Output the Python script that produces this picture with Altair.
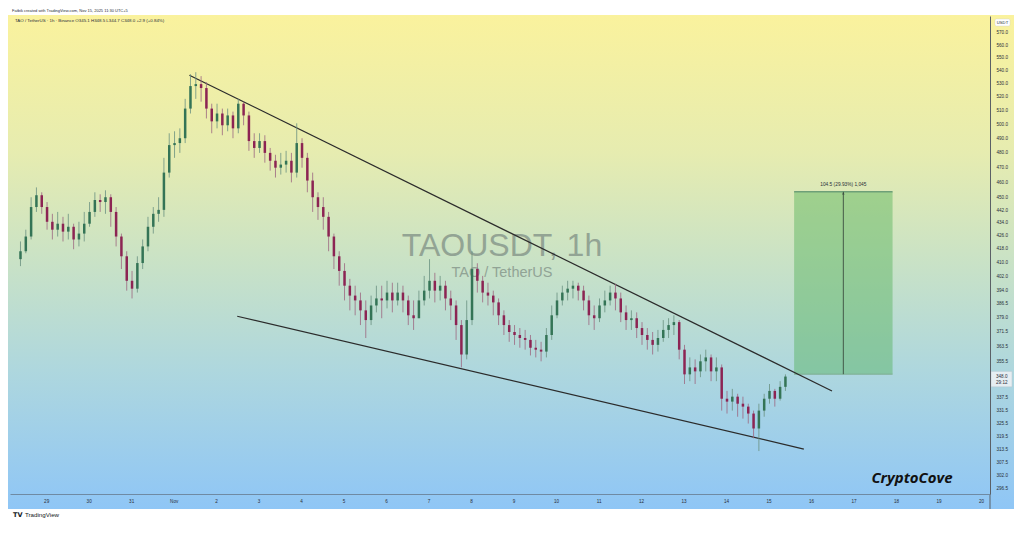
import json
import altair as alt
import pandas as pd

# ---------------- data (3-hour candles, hours counted from Oct 29 00:00) ----------------
START_HOUR = -16
STEP_HOURS = 3
OPEN0 = 411.9

CLOSE = [416.6, 425.5, 443.9, 451.5, 443.9, 434.6, 429.7, 433.4, 428.5, 431.5,
         423.7, 427.3, 433.4, 440.8, 448.4, 447.1, 450.2, 440.8, 425.5, 413.6,
         399.3, 394.8, 409.6, 419.5, 431.5, 439.6, 442.1, 466.4, 485.2, 486.6,
         490.0, 511.3, 528.1, 529.6, 526.6, 511.3, 502.0, 507.7, 499.2, 506.3,
         497.0, 514.9, 506.3, 488.0, 483.2, 488.0, 479.8, 474.4, 469.7, 471.8,
         474.4, 466.4, 486.6, 476.4, 461.1, 450.2, 443.9, 437.7, 425.5, 413.6,
         405.0, 396.5, 390.9, 388.2, 382.7, 377.4, 385.4, 389.3, 388.2, 392.6,
         388.2, 392.6, 388.2, 380.0, 378.4, 388.2, 393.7, 399.3, 393.7, 396.5,
         389.3, 385.4, 374.7, 359.2, 377.4, 406.1, 399.3, 392.6, 390.9, 387.1,
         380.0, 374.7, 371.0, 369.4, 367.8, 366.8, 362.7, 361.7, 360.7, 369.4,
         380.0, 388.2, 392.6, 394.8, 396.5, 393.7, 388.2, 380.0, 378.4, 385.4,
         388.2, 392.6, 389.3, 381.6, 377.4, 378.4, 373.1, 369.4, 366.8, 364.2,
         367.8, 372.1, 374.7, 376.3, 361.7, 349.1, 352.6, 350.6, 355.7, 357.7,
         350.6, 352.6, 337.1, 335.7, 338.1, 334.7, 333.3, 330.0, 323.0, 331.4,
         337.1, 340.9, 337.1, 342.9, 348.0]

HIGH = [422.5, 429.7, 450.2, 456.6, 453.4, 447.1, 439.6, 440.8, 437.7, 439.6,
        433.4, 434.6, 440.8, 447.1, 453.4, 452.1, 454.7, 452.1, 443.9, 427.3,
        416.6, 405.0, 413.6, 423.7, 437.7, 443.9, 450.2, 476.4, 493.5, 494.9,
        497.0, 518.5, 537.2, 538.7, 535.7, 531.1, 514.9, 514.9, 511.3, 511.3,
        509.1, 518.5, 516.4, 509.1, 493.5, 493.5, 492.1, 483.2, 478.5, 479.8,
        481.2, 479.8, 500.6, 490.0, 479.8, 466.4, 453.4, 450.2, 440.8, 427.3,
        416.6, 409.5, 400.4, 396.5, 392.6, 388.2, 390.9, 396.5, 396.5, 399.3,
        398.2, 398.2, 396.5, 390.9, 388.2, 393.7, 402.1, 411.9, 403.9, 402.1,
        399.3, 393.7, 388.2, 377.4, 388.2, 416.6, 409.5, 402.1, 398.2, 393.7,
        389.3, 382.7, 377.4, 374.7, 373.1, 372.1, 369.4, 366.8, 365.8, 373.1,
        385.4, 392.6, 396.5, 399.3, 399.3, 398.2, 396.5, 390.9, 385.4, 389.3,
        393.7, 396.5, 397.6, 392.6, 385.4, 382.7, 381.6, 376.3, 373.1, 371.0,
        372.1, 377.4, 378.4, 380.0, 377.4, 364.2, 357.7, 356.7, 359.2, 361.7,
        359.2, 357.7, 354.1, 340.9, 341.9, 339.5, 338.1, 334.7, 331.4, 334.7,
        339.5, 344.3, 341.9, 345.7, 349.1]

LOW = [407.8, 415.4, 423.7, 440.8, 439.6, 429.7, 423.7, 425.5, 422.5, 423.7,
       417.8, 419.5, 422.5, 431.5, 437.7, 440.8, 439.6, 431.5, 419.5, 406.1,
       393.7, 389.3, 392.6, 406.1, 416.6, 427.3, 434.6, 437.7, 463.1, 476.4,
       479.8, 486.6, 507.7, 518.5, 516.4, 504.1, 493.5, 497.0, 492.1, 494.9,
       490.0, 493.5, 499.2, 481.2, 476.4, 479.8, 473.1, 467.7, 463.1, 465.1,
       466.4, 459.9, 463.1, 469.7, 453.4, 440.8, 435.8, 429.7, 416.6, 406.1,
       396.5, 388.2, 382.7, 380.0, 374.7, 367.8, 374.7, 381.6, 378.4, 383.8,
       381.6, 385.4, 381.6, 374.7, 372.1, 378.4, 385.4, 389.3, 387.1, 388.2,
       382.7, 377.4, 366.8, 352.6, 356.7, 374.7, 392.6, 387.1, 385.4, 380.0,
       374.7, 369.4, 365.8, 364.2, 362.7, 361.7, 358.7, 357.7, 355.7, 357.7,
       366.8, 378.4, 385.4, 388.2, 389.3, 388.2, 382.7, 374.7, 372.1, 376.3,
       381.6, 385.4, 382.7, 376.3, 372.1, 372.1, 367.8, 364.2, 361.7, 359.2,
       360.7, 365.8, 367.8, 369.4, 356.7, 344.3, 345.7, 344.3, 347.7, 350.6,
       345.7, 345.7, 331.4, 330.0, 331.4, 328.5, 327.6, 325.3, 318.5, 312.7,
       328.5, 334.7, 333.3, 336.2, 340.9]

DAY_TICK_HOURS = [0, 24, 48, 72, 96, 120, 144, 168, 192, 216, 240, 264, 288,
                  312, 336, 360, 384, 408, 432, 456, 480, 504, 528]
DAY_LABELS = ["29", "30", "31", "Nov", "2", "3", "4", "5", "6", "7", "8", "9",
              "10", "11", "12", "13", "14", "15", "16", "17", "18", "19", "20"]
PRICE_TICKS = [570.0, 560.0, 550.0, 540.0, 530.0, 520.0, 510.0, 500.0, 490.0,
               480.0, 470.0, 460.0, 450.0, 442.0, 434.0, 426.0, 418.0, 410.0,
               402.0, 394.0, 386.5, 379.0, 371.5, 363.5, 355.5, 337.5, 331.5,
               325.5, 319.5, 313.5, 307.5, 302.0, 296.5]

UPPER_T = [80.9, 443.8]
UPPER_P = [536.4, 340.9]
LOWER_T = [107.9, 427.9]
LOWER_P = [379.5, 313.6]

BOX_T = [422.4, 478.0]
BOX_P = [349.2, 453.7]
BOX_MID_T = 450.2
BOX_LABEL = "104.5 (29.93%) 1,045"

LAST_PRICE = 348.0
LAST_PRICE_TEXT = "348.0"
COUNTDOWN_TEXT = "29:12"

TITLE_BIG = "TAOUSDT, 1h"
TITLE_SMALL = "TAO / TetherUS"
HEADER_TOP = "Fatbik created with TradingView.com, Nov 15, 2025 11:30 UTC+5"
HEADER_OHLC = "TAO / TetherUS · 1h · Binance  O345.1  H348.5  L344.7  C348.0  +2.9 (+0.84%)"
BRAND = "CryptoCove"

# ---------------- layout ----------------
W, H = 980, 478
FONT = "Liberation Sans"

opens = [OPEN0] + CLOSE[:-1]
candles = pd.DataFrame({
    "t": [START_HOUR + STEP_HOURS * i + STEP_HOURS / 2 for i in range(len(CLOSE))],
    "o": opens, "h": HIGH, "l": LOW, "c": CLOSE,
})

x_scale = alt.Scale(domain=[-17.6, 530.2], nice=False, zero=False)
y_scale = alt.Scale(type="log", domain=[294.0, 584.0], nice=False, zero=False)

x_axis = alt.Axis(values=DAY_TICK_HOURS,
                  labelExpr=json.dumps(DAY_LABELS) + "[round(datum.value/24)]",
                  labelFontSize=4.6, labelColor="#2a2e39", labelFont=FONT,
                  ticks=False, grid=False, domainColor="#6f8aa3", domainWidth=1,
                  labelPadding=4, title=None, zindex=1, labelFlush=False)
y_axis = alt.Axis(values=PRICE_TICKS, format=".1f", orient="right",
                  labelFontSize=4.6, labelColor="#2a2e39", labelFont=FONT,
                  ticks=False, grid=False, domainColor="#5b6066", domainWidth=1,
                  labelPadding=6, title=None, zindex=1, labelFlush=False,
                  labelOverlap=False)


def X(field):
    return alt.X(field, type="quantitative", scale=x_scale, axis=x_axis, title=None)


def Y(field):
    return alt.Y(field, type="quantitative", scale=y_scale, axis=y_axis, title=None)


one = alt.Data(values=[{}])


def label(text, x, y, size, color, align="left", baseline="middle", **kw):
    return alt.Chart(one).mark_text(text=text, fontSize=size, color=color, align=align,
                                    baseline=baseline, font=kw.pop("font", FONT), **kw).encode(
        x=alt.value(x), y=alt.value(y))


gradient = alt.Chart(one).mark_rect(
    fill=alt.Gradient(gradient="linear", x1=0, x2=0, y1=0, y2=1, stops=[
        alt.GradientStop(color="#faf29d", offset=0.0),
        alt.GradientStop(color="#e6ecb0", offset=0.28),
        alt.GradientStop(color="#c9e2c6", offset=0.5),
        alt.GradientStop(color="#aed7de", offset=0.72),
        alt.GradientStop(color="#8fc6f6", offset=1.0),
    ])).encode(x=alt.value(-2), x2=alt.value(W + 24), y=alt.value(-1), y2=alt.value(H + 15))

watermark = label(TITLE_BIG, 492, 230, 32, "#7f8f85", align="center", opacity=0.75)
watermark2 = label(TITLE_SMALL, 492, 257, 14.5, "#7f8f85", align="center", opacity=0.75)

box_df = pd.DataFrame({"t0": [BOX_T[0]], "t1": [BOX_T[1]], "p0": [BOX_P[0]], "p1": [BOX_P[1]],
                       "tm": [BOX_MID_T], "lab": [BOX_LABEL]})
box = alt.Chart(box_df).mark_rect(fill="#4caf50", opacity=0.42).encode(
    x=X("t0"), x2="t1", y=Y("p0"), y2="p1")
box_top = alt.Chart(box_df).mark_rule(color="#6e9f78", strokeWidth=1.5).encode(
    x=X("t0"), x2="t1", y=Y("p1"))
box_bottom = alt.Chart(box_df).mark_rule(color="#7fae92", strokeWidth=1).encode(
    x=X("t0"), x2="t1", y=Y("p0"))
box_mid = alt.Chart(box_df).mark_rule(color="#3b4d40", strokeWidth=0.9).encode(
    x=X("tm"), y=Y("p0"), y2="p1")
box_arrow = alt.Chart(box_df).mark_point(shape="triangle-up", size=6, filled=True,
                                         color="#3b4d40", opacity=1, yOffset=1.5).encode(
    x=X("tm"), y=Y("p1"))
box_text = alt.Chart(box_df).mark_text(fontSize=4.8, color="#2a2e39", dy=-7, font=FONT).encode(
    x=X("tm"), y=Y("p1"), text="lab:N")

lines_df = pd.DataFrame({
    "t": UPPER_T + LOWER_T,
    "p": UPPER_P + LOWER_P,
    "g": ["upper", "upper", "lower", "lower"],
})
trend = alt.Chart(lines_df).mark_line(color="#2b2b2b", strokeWidth=1.2).encode(
    x=X("t"), y=Y("p"), detail="g:N")

wicks = alt.Chart(candles).mark_rule(strokeWidth=0.8).encode(
    x=X("t"), y=Y("l"), y2="h",
    color=alt.condition("datum.c >= datum.o", alt.value("#6a9180"), alt.value("#9c6680")))
bodies = alt.Chart(candles).mark_bar(size=2.5).encode(
    x=X("t"), y=Y("o"), y2="c",
    color=alt.condition("datum.c >= datum.o", alt.value("#347456"), alt.value("#8c2453")))

tag_df = pd.DataFrame({"p_top": [350.6], "p_bot": [342.9], "p": [LAST_PRICE], "pc": [344.6],
                       "txt": [LAST_PRICE_TEXT], "cd": [COUNTDOWN_TEXT]})
tag_box = alt.Chart(tag_df).mark_rect(fill="#e6eef2", stroke="#b9c6cf", strokeWidth=0.5).encode(
    x=alt.value(W + 1), x2=alt.value(W + 22), y=Y("p_top"), y2="p_bot")
tag_text = alt.Chart(tag_df).mark_text(fontSize=4.6, color="#2a2e39", align="left", font=FONT).encode(
    x=alt.value(W + 6), y=Y("p"), text="txt:N")
tag_cd = alt.Chart(tag_df).mark_text(fontSize=4.6, color="#2a2e39", align="left", font=FONT).encode(
    x=alt.value(W + 6), y=Y("pc"), text="cd:N")

axis_ext = alt.Chart(one).mark_rule(color="#5b6066", strokeWidth=1).encode(
    x=alt.value(W), y=alt.value(H), y2=alt.value(H + 15))

usdt_box = alt.Chart(one).mark_rect(fill="#ffffff", cornerRadius=1.5, stroke="#d0d0d0",
                                    strokeWidth=0.4).encode(
    x=alt.value(W + 5), x2=alt.value(W + 20), y=alt.value(3), y2=alt.value(10))
usdt = label("USDT", W + 12.5, 6.5, 4.2, "#2a2e39", align="center")

header_top = label(HEADER_TOP, 2, -5, 4.0, "#2a2e39")
header_ohlc = label(HEADER_OHLC, 5, 5, 4.4, "#2a2e39")
brand = label(BRAND, 902, 462, 15, "#111111", align="center", fontStyle="italic",
              fontWeight="bold", font="Open Sans")
tv_logo = label("TV", 3, H + 21, 6.5, "#131722", fontWeight="bold", font="DejaVu Sans")
tv_text = label("TradingView", 15, H + 21, 6.2, "#131722", font="Liberation Sans")

chart = alt.layer(
    gradient, watermark, watermark2,
    box, box_top, box_bottom, box_mid, box_arrow, box_text,
    trend, wicks, bodies,
    tag_box, tag_text, tag_cd, axis_ext, usdt_box, usdt,
    header_top, header_ohlc, brand, tv_logo, tv_text,
).properties(
    width=W, height=H,
    padding={"left": 2, "top": 8, "right": 24, "bottom": 24},
    autosize=alt.AutoSizeParams(type="none"),
    background="#ffffff",
).configure_view(strokeWidth=0)

chart.save("out.html", embed_options={"renderer": "svg", "actions": False})
